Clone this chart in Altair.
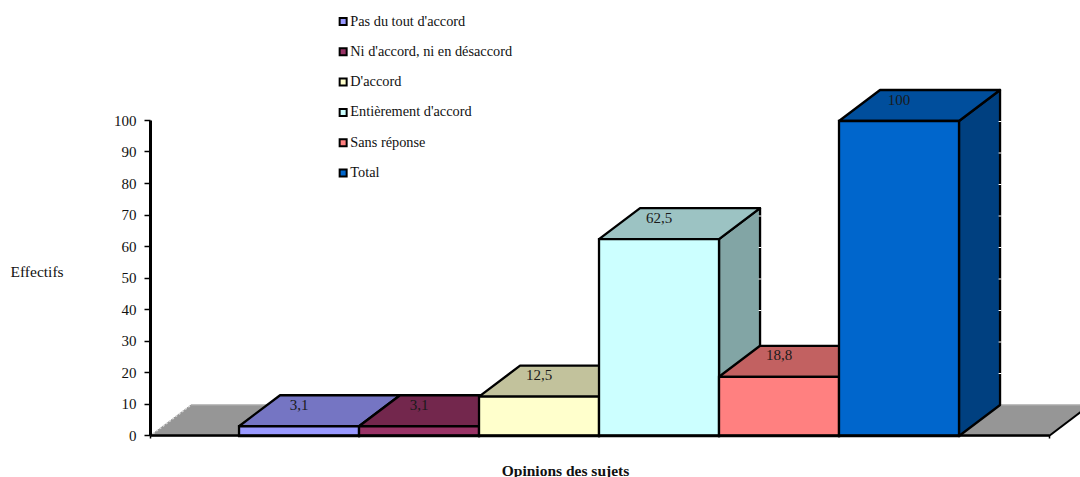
import altair as alt
import pandas as pd

SERIF = "Liberation Serif"

# Survey answers and the share of subjects for each
opinions = ["Pas du tout d'accord", "Ni d'accord, ni en désaccord", "D'accord",
            "Entièrement d'accord", "Sans réponse", "Total"]
values = [3.1, 3.1, 12.5, 62.5, 18.8, 100]
value_labels = ["3,1", "3,1", "12,5", "62,5", "18,8", "100"]

front_colors = ["#9999ff", "#993366", "#ffffcc", "#ccffff", "#ff8080", "#0066cc"]
top_colors = ["#7575c3", "#73274d", "#c2c29c", "#9cc3c3", "#c26161", "#004e9c"]
side_colors = ["#6363a6", "#632142", "#a6a685", "#82a5a5", "#a65353", "#004080"]

# Oblique projection of the box: depth expressed in axis units
depth_x = 0.342
depth_y = 9.84
x_domain = [-0.742, 6.75]
y_domain = [0, 100]
wall_levels = [10, 20, 30, 40, 50, 60, 70, 80, 90]
y_ticks = list(range(0, 101, 10))
edge_width = 2.3
# The boxes sit one pixel under the axis baseline
drop = 1

x_scale = alt.Scale(domain=x_domain, nice=False, zero=False)
y_scale = alt.Scale(domain=y_domain, nice=False)

x_axis = alt.Axis(
    values=x_domain, labels=False, grid=False, tickSize=3, tickWidth=1.5, tickColor="black",
    domainColor="black", domainWidth=2.5, zindex=2,
    titleFont=SERIF, titleFontSize=15.5, titleFontWeight="bold", titleColor="#111111",
    titleX=415, titleY=35, titleBaseline="middle", titleAlign="center",
)
y_axis = alt.Axis(
    values=y_ticks, grid=False, tickSize=6, tickWidth=1.5, tickColor="black",
    domainColor="black", domainWidth=3, labelFont=SERIF, labelFontSize=15,
    labelColor="#111111", labelPadding=8, zindex=2,
    titleFont=SERIF, titleFontSize=15.5, titleFontWeight="normal", titleColor="#111111",
    titleAngle=0, titleX=-140, titleY=151, titleAlign="left", titleBaseline="middle",
)
x_enc = alt.X("x:Q", scale=x_scale, title="Opinions des sujets", axis=x_axis)
y_enc = alt.Y("y:Q", scale=y_scale, title="Effectifs", axis=y_axis)


def face_chart(rows, fill, stroke="black", width=edge_width):
    return alt.Chart(pd.DataFrame(rows)).mark_area(
        fill=fill, stroke=stroke, strokeWidth=width, strokeJoin="round", opacity=1,
        yOffset=drop, y2Offset=drop,
    ).encode(x=x_enc, y=y_enc, y2="y2:Q")


# Floor under the bars
fl, fr = x_domain
floor = face_chart(
    [
        {"x": fl, "y": 0, "y2": 0},
        {"x": fl + depth_x, "y": depth_y, "y2": 0},
        {"x": fr, "y": depth_y, "y2": 0},
        {"x": fr + depth_x, "y": depth_y, "y2": depth_y},
    ],
    "#969696", stroke="#969696", width=1,
)
floor_back = alt.Chart(pd.DataFrame({"x": [fl + depth_x, fr + depth_x], "y": [depth_y, depth_y]})).mark_line(
    stroke="#b2b2b2", strokeWidth=1, yOffset=drop
).encode(x=x_enc, y=y_enc)
floor_left = alt.Chart(pd.DataFrame({"x": [fl, fl + depth_x], "y": [0, depth_y]})).mark_line(
    stroke="#d8d8d8", strokeWidth=1.5, strokeDash=[2, 2], yOffset=drop
).encode(x=x_enc, y=y_enc)
floor_right = alt.Chart(pd.DataFrame({"x": [fr, fr + depth_x], "y": [0, depth_y]})).mark_line(
    stroke="black", strokeWidth=2, yOffset=drop
).encode(x=x_enc, y=y_enc)

# Side and top faces, painted from left to right
faces = []
for i, v in enumerate(values):
    x0, x1 = i, i + 1
    faces.append(face_chart(
        [
            {"x": x1, "y": v, "y2": 0},
            {"x": x1 + depth_x, "y": v + depth_y, "y2": depth_y},
        ],
        side_colors[i],
    ))
    faces.append(face_chart(
        [
            {"x": x0, "y": v, "y2": v},
            {"x": x0 + depth_x, "y": v + depth_y, "y2": v},
            {"x": x1, "y": v + depth_y, "y2": v},
            {"x": x1 + depth_x, "y": v + depth_y, "y2": v + depth_y},
        ],
        top_colors[i],
    ))

# Back-wall gridlines that show through on the rear edges of the tall boxes
wall_rows = []
for i, v in enumerate(values):
    next_v = values[i + 1] if i + 1 < len(values) else 0
    for level in wall_levels:
        if next_v + 10 <= level < v:
            wall_rows.append({"x": i + 1 + depth_x - 0.012, "x2": i + 1 + depth_x + 0.012,
                              "y": level + depth_y})
wall_ticks = alt.Chart(pd.DataFrame(wall_rows)).mark_rule(stroke="white", strokeWidth=1, yOffset=drop).encode(
    x=x_enc, x2="x2:Q", y=y_enc
)

# Front faces carry the colour legend
front_df = pd.DataFrame({
    "opinion": opinions,
    "x": list(range(len(values))),
    "x2": [i + 1 for i in range(len(values))],
    "y": values,
    "y2": [0] * len(values),
    "label": value_labels,
    "lx": [i + 0.5 for i in range(len(values))],
})
fronts = alt.Chart(front_df).mark_rect(
    stroke="black", strokeWidth=edge_width, opacity=1, yOffset=drop, y2Offset=drop
).encode(
    x=x_enc,
    x2="x2:Q",
    y=y_enc,
    y2="y2:Q",
    color=alt.Color(
        "opinion:N",
        scale=alt.Scale(domain=opinions, range=front_colors),
        sort=opinions,
        legend=alt.Legend(
            title=None,
            orient="none",
            legendX=186,
            legendY=-106,
            symbolType="square",
            symbolSize=49,
            symbolStrokeColor="black",
            symbolStrokeWidth=2,
            symbolOpacity=1,
            labelFont=SERIF,
            labelFontSize=14.3,
            labelColor="#111111",
            labelOffset=0,
            labelLimit=400,
            rowPadding=15.3,
            clipHeight=15,
            padding=0,
        ),
    ),
)

labels = alt.Chart(front_df).mark_text(
    font=SERIF, fontSize=15, color="#1a1a1a", baseline="middle", align="center", dy=-20.5
).encode(x=alt.X("lx:Q", scale=x_scale, title="Opinions des sujets", axis=x_axis), y=y_enc, text="label:N")

chart = alt.layer(
    floor, floor_back, floor_left, floor_right, *faces, wall_ticks, fronts, labels
).properties(
    width=899,
    height=315,
    padding={"left": 150, "top": 120, "right": 31, "bottom": 42},
    autosize=alt.AutoSizeParams(type="none"),
    background="white",
).configure_view(stroke=None)

chart.save("out.html", embed_options={"renderer": "svg", "actions": False})
